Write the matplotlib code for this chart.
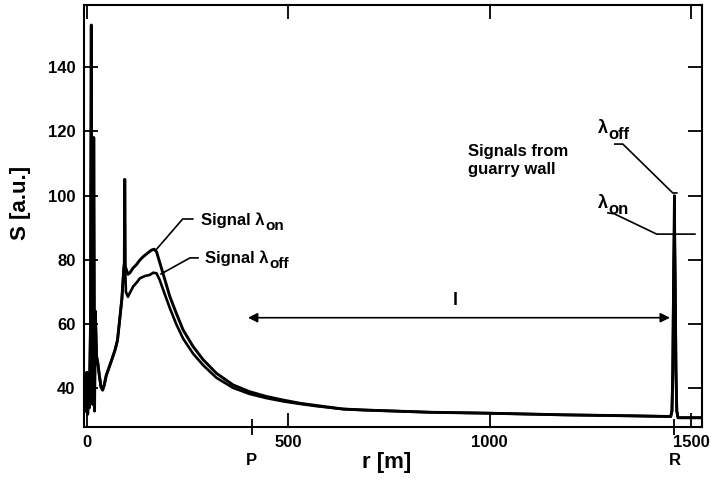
import matplotlib
matplotlib.use("Agg")
import matplotlib.pyplot as plt

plt.rcParams["font.family"] = ["Liberation Sans", "DejaVu Sans"]
plt.rcParams["font.weight"] = "bold"
plt.rcParams["axes.labelweight"] = "bold"

# near field: both wavelengths coincide up to the spike at ~95 m
r_near = [-3, 0, 2, 4, 6, 9, 11, 13, 15, 17, 19, 21, 24, 27, 31, 35, 39, 43,
          48, 55, 62, 70, 76, 82, 87, 91, 93, 94, 95]
s_near = [33, 45, 32, 42, 34, 60, 153, 40, 35, 118, 33, 64, 50, 48, 44, 40.5,
          39.5, 41, 44, 46.5, 49, 52, 55, 62, 68, 76, 79, 105, 78]

# lambda_on: hump and decay
r_on_mid = [98, 102, 107, 115, 123, 132, 140, 150, 160, 167, 173, 189, 206,
            222, 239, 264, 289, 322, 363, 404, 446, 487, 529, 570]
s_on_mid = [77, 75.5, 76, 77.5, 78.5, 80, 81, 82, 83, 83.3, 82.5, 75.8, 68.6,
            63.4, 58.2, 53.0, 48.9, 44.7, 41.1, 39.0, 37.5, 36.4, 35.4, 34.7]

# lambda_off: hump and decay
r_off_mid = [97, 102, 107, 115, 124, 132, 145, 156, 165, 173, 181, 190, 206,
             222, 239, 264, 289, 322, 363, 404, 446, 487, 529, 570]
s_off_mid = [70, 68.5, 69.8, 71.7, 73, 74.3, 75, 75.3, 76, 75.8, 73.7, 70.5,
             65, 60, 55.5, 50.8, 47.2, 43.3, 40.2, 38.3, 37.0, 36.0, 35.2, 34.5]

# far field with the quarry wall echo
r_far = [636, 686, 851, 1000, 1182, 1347, 1440, 1450, 1453, 1455, 1457,
         1459, 1461, 1463, 1465, 1468, 1527]
s_far_on = [33.6, 33.3, 32.6, 32.3, 31.8, 31.5, 31.3, 31.3, 33, 45, 70,
            88, 70, 45, 33, 30.9, 30.9]
s_far_off = [33.6, 33.3, 32.6, 32.3, 31.8, 31.5, 31.3, 31.3, 33, 45, 78,
             100, 78, 45, 33, 30.9, 30.9]

r_on = r_near + r_on_mid + r_far
s_on = s_near + s_on_mid + s_far_on
r_off = r_near + r_off_mid + r_far
s_off = s_near + s_off_mid + s_far_off

x_ticks = [0, 500, 1000, 1500]
y_ticks = [40, 60, 80, 100, 120, 140]
r_P, r_R = 409, 1459
r_arrow_end = 1448
s_arrow = 62

fig = plt.figure(figsize=(7.11, 4.82), dpi=100)
ax = fig.add_axes([0.118, 0.114, 0.869, 0.876])

ax.plot(r_off, s_off, color="black", lw=1.9)
ax.plot(r_on, s_on, color="black", lw=2.1)

ax.set_xlim(-7.4, 1527)
ax.set_ylim(28.0, 159.3)
ax.set_xticks(x_ticks)
ax.set_yticks(y_ticks)
ax.tick_params(direction="in", length=10, width=1.3, top=True, right=True,
               labelsize=12, pad=6)
for sp in ax.spines.values():
    sp.set_linewidth(1.5)

# P and R markers on the range axis
sec = ax.secondary_xaxis("bottom")
sec.set_xticks([r_P, r_R], labels=["P", "R"])
sec.tick_params(direction="inout", length=11, width=1.3, labelsize=12, pad=13)
sec.spines["bottom"].set_visible(False)

ax.set_xlabel("r [m]", fontsize=16)
ax.xaxis.set_label_coords(0.49, -0.058)
ax.set_ylabel("S [a.u.]", fontsize=16)
ax.yaxis.set_label_coords(-0.085, 0.53)


def lam_text(x, y, base, sub, size=12):
    # base text on its baseline, subscript hung off its lower right corner
    t = ax.text(x, y, base, fontsize=size, ha="left", va="baseline")
    ax.annotate(sub, xy=(1, 0), xycoords=t, xytext=(0.5, -3.5),
                textcoords="offset points", fontsize=size - 1,
                ha="left", va="bottom")


# length l between P and R
ax.annotate("", xy=(r_arrow_end, s_arrow), xytext=(r_P - 9, s_arrow),
            arrowprops=dict(arrowstyle="<|-|>", color="black", lw=1.2,
                            mutation_scale=14, shrinkA=0, shrinkB=0))
ax.text(914, 67.5, "l", fontsize=13, ha="center", va="center")

# signal labels with leaders
ax.plot([173, 238, 263], [83.3, 92.7, 92.7], color="black", lw=1.2)
lam_text(283, 90.9, "Signal λ", "on")
ax.plot([184, 256, 276], [75.6, 80.6, 80.6], color="black", lw=1.2)
lam_text(293, 79.0, "Signal λ", "off")

ax.text(946, 111, "Signals from\nguarry wall", fontsize=12, ha="left",
        va="center", linespacing=1.25)
lam_text(1269, 119.5, "λ", "off", size=13)
ax.plot([1311, 1331, 1455, 1465], [116, 116, 100.8, 100.8], color="black",
        lw=1.2)
lam_text(1269, 96.1, "λ", "on", size=13)
ax.plot([1294, 1310, 1415, 1510], [94.6, 94.3, 88, 88], color="black", lw=1.2)

fig.savefig("out.png", dpi=100)
